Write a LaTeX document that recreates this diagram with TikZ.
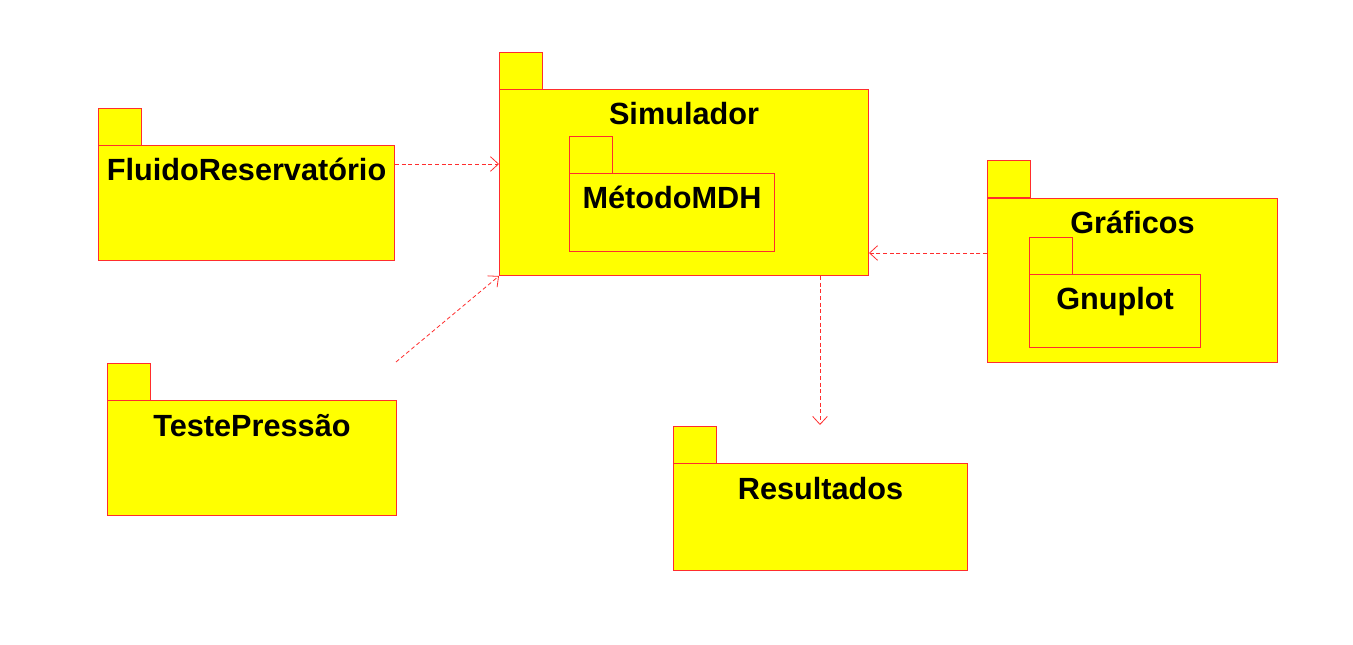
\documentclass[tikz,border=0pt]{standalone}
\usepackage{fontspec}
\setmainfont{Liberation Sans}
\usetikzlibrary{arrows.meta}
\definecolor{pkgfill}{RGB}{255,255,0}
\definecolor{pkgline}{RGB}{255,45,45}
\begin{document}
\begin{tikzpicture}[x=0.75pt,y=-0.75pt,
  tab/.style={draw=pkgline,line width=0.75pt,fill=pkgfill,anchor=north west,inner sep=0pt,minimum width=32.25pt,minimum height=27.75pt},
  body/.style={draw=pkgline,line width=0.75pt,fill=pkgfill,anchor=north west,inner sep=0pt},
  title/.style={anchor=base,inner sep=0pt,font=\bfseries\fontsize{23}{26}\selectfont},
  dep/.style={draw=pkgline,line width=0.6pt,dash pattern=on 3pt off 2pt,-{Straight Barb[length=6pt,width=11pt]}}]
\useasboundingbox (0,0) rectangle (1353,645);
\node[tab] (fluidoTab) at (98,108) {};
\node[body, minimum width=222pt, minimum height=86.25pt] (fluido) at (98,145) {};
\node[title] (fluidoT) at ([yshift=-27pt]fluido.north) {FluidoReservatório};
\node[tab] (simTab) at (499,52) {};
\node[body, minimum width=276.75pt, minimum height=139.5pt] (sim) at (499,89) {};
\node[title] (simT) at ([yshift=-27pt]sim.north) {Simulador};
\node[tab] (mdhTab) at (569,136) {};
\node[body, minimum width=153.75pt, minimum height=58.5pt] (mdh) at (569,173) {};
\node[title] (mdhT) at ([yshift=-27pt]mdh.north) {MétodoMDH};
\node[tab] (grafTab) at (987,160) {};
\node[body, minimum width=217.5pt, minimum height=123pt] (graf) at (987,198) {};
\node[title] (grafT) at ([yshift=-27pt]graf.north) {Gráficos};
\node[tab] (gnuTab) at (1029,237) {};
\node[body, minimum width=128.25pt, minimum height=54.75pt] (gnu) at (1029,274) {};
\node[title] (gnuT) at ([yshift=-27pt]gnu.north) {Gnuplot};
\node[tab] (testeTab) at (107,363) {};
\node[body, minimum width=216.75pt, minimum height=86.25pt] (teste) at (107,400) {};
\node[title] (testeT) at ([yshift=-27pt]teste.north) {TestePressão};
\node[tab] (resTab) at (673,426) {};
\node[body, minimum width=220.5pt, minimum height=80.25pt] (res) at (673,463) {};
\node[title] (resT) at ([yshift=-27pt]res.north) {Resultados};
\coordinate (testeOut) at (396,362);
\coordinate (resIn) at (820,425);
\draw[dep] ([yshift=-14.25pt]fluido.north east) coordinate (fluidoOut) -- (fluidoOut -| sim.west);
\draw[dep] (testeOut) -- (sim.south west);
\draw[dep] ([yshift=-41.25pt]graf.north west) coordinate (grafOut) -- (grafOut -| sim.east);
\draw[dep] (sim.south -| resIn) -- (resIn);
\end{tikzpicture}
\end{document}
